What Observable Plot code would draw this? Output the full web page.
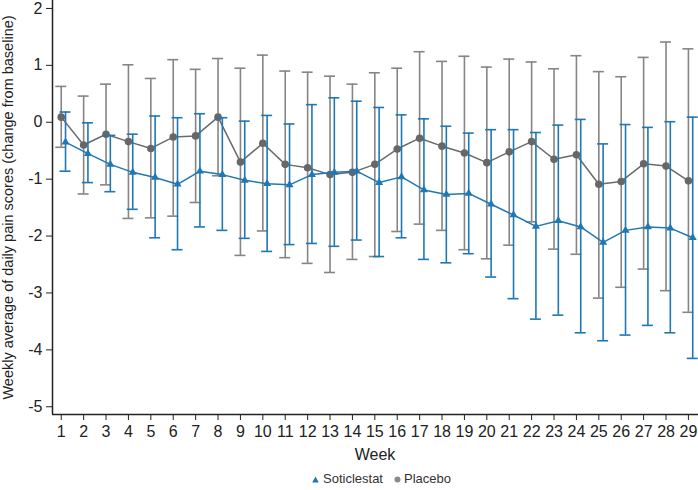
<!DOCTYPE html>
<html><head><meta charset="utf-8">
<script src="https://cdn.jsdelivr.net/npm/d3@7"></script>
<script src="https://cdn.jsdelivr.net/npm/@observablehq/plot@0.6"></script>
<style>
body{margin:0;background:#fff;font-family:"Liberation Sans",Arial,sans-serif;}
#wrap{position:relative;width:698px;height:490px;}
#legend{position:absolute;left:311px;top:471px;font-size:13px;line-height:16px;color:#333;display:flex;align-items:center;white-space:nowrap;}
#xlabel{position:absolute;left:325px;width:100px;text-align:center;top:445px;font-size:16px;line-height:20px;color:#222;}
</style></head><body>
<div id="wrap"><div id="chart"></div>
<div id="xlabel"></div>
<div id="legend">
<svg width="9" height="9" style="margin-right:3px"><path d="M4.5 1.5 L7.8 7.5 L1.2 7.5 Z" fill="#1f77b4"/></svg><span id="l1" style="margin-right:10px"></span>
<svg width="9" height="9" style="margin-right:2px"><circle cx="4.5" cy="4.5" r="3" fill="#8a8a8a"/></svg><span id="l2"></span>
</div></div>
<script>
const weeks = [1,2,3,4,5,6,7,8,9,10,11,12,13,14,15,16,17,18,19,20,21,22,23,24,25,26,27,28,29];
const yTicks = [2,1,0,-1,-2,-3,-4,-5];
const seriesNames = ["Soticlestat", "Placebo"];
const xLabel = "Week";
const yLabel = "Weekly average of daily pain scores (change from baseline)";
const placeboMean  = [0.09,-0.40,-0.21,-0.34,-0.46,-0.26,-0.24,0.09,-0.70,-0.37,-0.74,-0.80,-0.92,-0.88,-0.74,-0.47,-0.28,-0.42,-0.54,-0.71,-0.52,-0.34,-0.65,-0.57,-1.09,-1.04,-0.73,-0.77,-1.03];
const placeboUpper = [0.63,0.46,0.67,1.01,0.77,1.10,0.93,1.12,0.95,1.18,0.90,0.88,0.81,0.67,0.87,0.95,1.24,1.07,1.16,0.97,1.11,1.06,0.94,1.17,0.89,0.80,1.14,1.41,1.29];
const placeboLower = [-0.44,-1.26,-1.10,-1.69,-1.68,-1.65,-1.41,-0.94,-2.34,-1.91,-2.38,-2.48,-2.64,-2.41,-2.36,-1.92,-1.79,-1.90,-2.24,-2.40,-2.16,-1.75,-2.23,-2.32,-3.09,-2.90,-2.58,-2.96,-3.34];
const soticMean  = [-0.35,-0.55,-0.74,-0.88,-0.97,-1.09,-0.86,-0.92,-1.02,-1.08,-1.10,-0.92,-0.88,-0.86,-1.06,-0.96,-1.19,-1.27,-1.25,-1.44,-1.63,-1.83,-1.73,-1.84,-2.11,-1.90,-1.84,-1.86,-2.03];
const soticUpper = [0.18,-0.01,-0.23,-0.21,0.11,0.08,0.15,0.08,0.02,0.12,-0.03,0.31,0.43,0.37,0.26,0.13,0.06,-0.07,-0.19,-0.13,-0.13,-0.18,-0.05,0.05,-0.38,-0.04,-0.09,0.01,0.09];
const soticLower = [-0.86,-1.06,-1.22,-1.53,-2.03,-2.24,-1.84,-1.90,-2.04,-2.27,-2.15,-2.13,-2.18,-2.07,-2.36,-2.03,-2.41,-2.47,-2.31,-2.72,-3.10,-3.46,-3.39,-3.70,-3.84,-3.74,-3.57,-3.70,-4.15];

const placebo = weeks.map((w,i)=>({week:w, mean:placeboMean[i], upper:placeboUpper[i], lower:placeboLower[i]}));
const sotic = weeks.map((w,i)=>({week:w, mean:soticMean[i], upper:soticUpper[i], lower:soticLower[i]}));

const xDomain = [0.61, 29.45];
const yDomain = [-5.136, 2.14];
const capHalf = 0.245;
const blue = "#1f77b4", greyBar = "#858585", greyLine = "#6a6a6a", greyDot = "#676767";
const sdx = 4.3;

function seriesMarks(data, barColor, lineColor, dotOpts, dx){
  return [
    Plot.ruleX(data, {x:"week", y1:"lower", y2:"upper", stroke:barColor, strokeWidth:1.6, dx}),
    Plot.ruleY(data, {y:"upper", x1:d=>d.week-capHalf, x2:d=>d.week+capHalf, stroke:barColor, strokeWidth:1.6, dx}),
    Plot.ruleY(data, {y:"lower", x1:d=>d.week-capHalf, x2:d=>d.week+capHalf, stroke:barColor, strokeWidth:1.6, dx}),
    Plot.line(data, {x:"week", y:"mean", stroke:lineColor, strokeWidth:1.5, dx}),
    Plot.dot(data, {x:"week", y:"mean", dx, ...dotOpts})
  ];
}

const chart = Plot.plot({
  width:698, height:466,
  marginLeft:52, marginRight:0, marginTop:0, marginBottom:52,
  style:{fontFamily:'"Liberation Sans", Arial, sans-serif', fontSize:"16px", color:"#222", background:"#fff"},
  x:{domain:xDomain, label:null},
  y:{domain:yDomain, label:null},
  marks:[
    Plot.axisX({ticks:weeks, tickSize:6, tickPadding:5, tickFormat:d=>String(d), label:null, fontSize:16}),
    Plot.axisY({ticks:yTicks, tickSize:6, tickPadding:4, tickFormat:d=>String(d), label:null, fontSize:16}),
    Plot.text([yLabel], {frameAnchor:"left", dx:-44, rotate:-90, text:d=>d, fontSize:14.5, textAnchor:"middle", lineAnchor:"middle", fill:"#222"}),
    Plot.ruleX([xDomain[0]], {stroke:"#222", strokeWidth:1.5}),
    Plot.ruleY([yDomain[0]], {stroke:"#222", strokeWidth:1.5}),
    ...seriesMarks(placebo, greyBar, greyLine, {r:3.8, fill:greyDot, symbol:"circle"}, 0),
    ...seriesMarks(sotic, blue, blue, {r:3, fill:blue, symbol:"triangle"}, sdx)
  ]
});
document.getElementById("chart").appendChild(chart);
document.getElementById("xlabel").textContent = xLabel;
document.getElementById("l1").textContent = seriesNames[0];
document.getElementById("l2").textContent = seriesNames[1];
</script>
</body></html>
